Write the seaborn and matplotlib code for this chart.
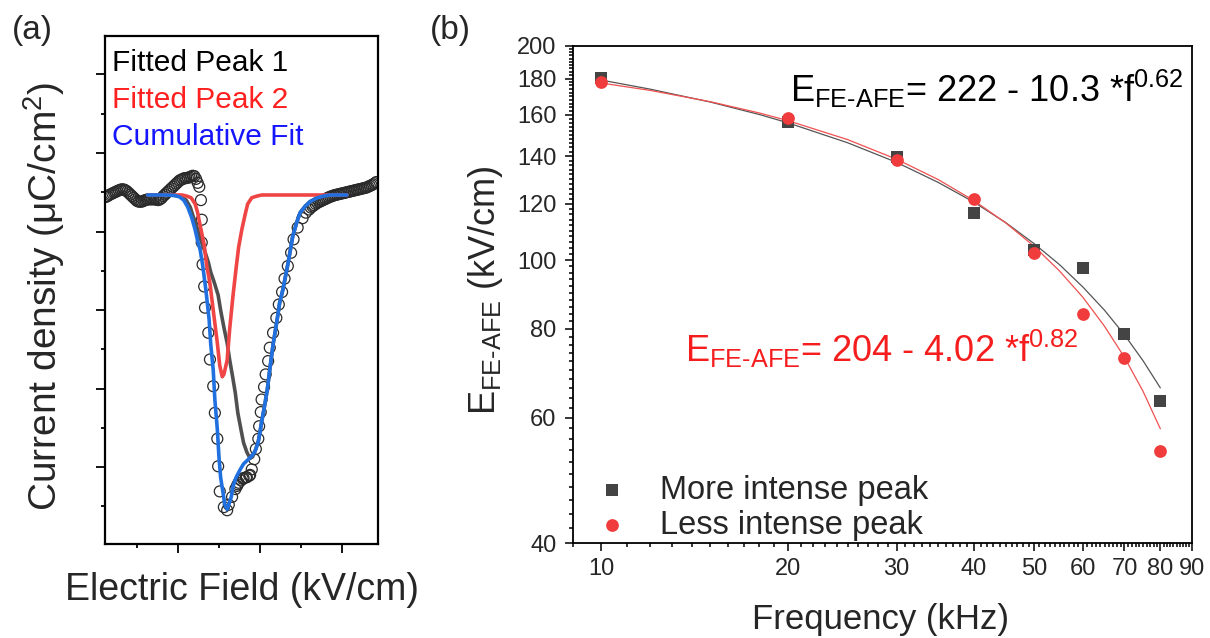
import matplotlib
matplotlib.use("Agg")
import matplotlib.pyplot as plt
import seaborn as sns
from matplotlib.ticker import FixedLocator, NullFormatter, FixedFormatter

# ---------------- panel (a) data (arbitrary units) ----------------
meas_field = [-188, -186, -184, -182, -180, -178, -176, -174, -172, -170, -168, -166, -164, -162,
              -160, -158, -156, -154, -152, -150, -148, -146, -144, -142, -140, -138, -136, -134,
              -132, -130, -128, -126, -124, -122, -120, -118, -116, -114, -112, -110, -108, -106,
              -104, -102, -100, -98, -96, -94, -92, -90, -88, -86, -84, -82, -80, -78, -76, -74,
              -72, -71, -71, -70, -68, -67, -63, -61, -57, -55, -52, -51, -49, -44, -40,
              -38, -34, -30, -28, -27, -26, -23, -21, -20, -17, -16, -13, -12, -10, -7, -5, -2, -1,
              1, 2, 5, 7, 10, 12, 16, 20, 23, 27, 30, 34, 38, 41, 46, 52, 56,
              60, 62, 64, 66, 68, 70, 72, 74, 76, 78, 80, 82, 84, 86, 88, 90, 92, 94, 96, 98, 100,
              102, 104, 106, 108, 110, 112, 114, 116, 118, 120, 122, 124, 126, 128, 130, 132, 134,
              136, 138, 140, 142]
meas_current = [-5.6, -5.5, -5.35, -5.25, -5.15, -5.05, -4.95, -4.85, -4.75, -4.67, -4.62, -4.65,
                -4.75, -4.9, -5.1, -5.3, -5.5, -5.7, -5.9, -6.1, -6.2, -6.2, -6.2, -6.1, -6.0, -5.95,
                -5.9, -5.9, -5.9, -5.9, -5.9, -5.95, -6.0, -5.9, -5.75, -5.5, -5.3, -5.1, -4.9, -4.7,
                -4.5, -4.3, -4.1, -3.9, -3.7, -3.5, -3.4, -3.3, -3.2, -3.2, -3.15, -3.1, -3.0, -2.9,
                -2.95, -3.3, -3.8, -4.3,
                -6.0, -8.5, -11.4, -14.2, -17.0, -19.7, -22.9, -26.3, -29.7, -33.1, -36.4, -39.9, -43.1, -45.1, -45.5,
                -44.8, -43.8, -42.8, -42.4, -42.2, -42.0, -41.7, -41.5, -41.4, -41.3, -41.3, -41.1, -41.0, -40.3, -39.0, -37.7, -36.4, -34.8,
                -33.0, -31.4, -29.8, -28.2, -26.5, -24.8, -22.9, -21.0, -19.3, -17.7, -16.0, -14.4, -12.7, -11.0, -9.5, -8.3, -7.6,
                -7.2, -6.95, -6.8, -6.65, -6.5, -6.35, -6.25, -6.15, -6.05, -5.95, -5.85, -5.75, -5.65,
                -5.55, -5.5, -5.4, -5.35, -5.3, -5.25, -5.2, -5.15,
                -5.1, -5.05, -5.0, -4.95, -4.9, -4.85, -4.8, -4.75, -4.7, -4.65, -4.6, -4.55, -4.5,
                -4.45, -4.4, -4.3, -4.2,
                -4.1, -4.0, -3.85, -3.7]

peak1_field = [-137, -110, -98, -90, -85, -82, -77, -72, -67, -63, -60, -56, -51, -48, -44, -40, -37,
               -33, -30, -27, -23, -20, -16, -12, -9, -5, -2, 0, 2, 6, 9, 12, 16, 21, 24, 28, 34, 40,
               45, 49, 55, 61, 70, 77, 85, 106]
peak1_current = [-5.35, -5.35, -5.5, -6.0, -6.9, -7.9, -9.4, -11.1, -12.6, -13.9, -15.2, -16.4, -18.1,
                 -20.0, -22.2, -24.2, -26.3, -28.7, -30.6, -33.1, -35.3, -36.9, -38.1, -38.9, -38.7,
                 -37.7, -36.7, -35.5, -34.3, -32.0, -30.1, -27.6, -24.4, -21.2, -19.1, -17.4, -14.2,
                 -10.6, -8.8, -7.6, -6.8, -6.2, -5.7, -5.5, -5.35, -5.35]

peak2_field = [-137, -95, -89, -84, -79, -76, -73, -68, -65, -61, -57, -52, -49, -46, -44, -40, -37,
               -33, -29, -26, -22, -18, -15, -10, -4, 2, 106]
peak2_current = [-5.35, -5.35, -5.5, -5.7, -6.5, -7.6, -9.2, -11.7, -14.3, -16.6, -20.0, -24.2, -27.1,
                 -28.5, -28.2, -26.4, -22.5, -18.3, -14.6, -12.0, -9.7, -7.8, -6.5, -5.7, -5.5, -5.35, -5.35]

cumfit_field = [-137, -116, -104, -98, -93, -88, -83, -79, -76, -73, -70, -66, -62, -60, -57, -55, -52,
                -50, -48, -45, -43, -40, -38, -35, -33, -29, -24, -20, -15, -10, -6, -2, 0, 2, 6, 9,
                12, 16, 21, 24, 28, 34, 40, 45, 49, 55, 61, 70, 77, 85, 106]
cumfit_current = [-5.35, -5.35, -5.4, -5.6, -6.0, -6.9, -8.3, -9.8, -11.2, -12.3, -14.2, -17.4, -21.2,
                  -24.4, -27.6, -31.4, -35.2, -38.7, -41.3, -43.3, -44.7, -45.4, -44.8, -43.8, -42.5,
                  -41.3, -40.3, -39.6, -39.1, -38.6, -38.0, -36.8, -35.6, -34.3, -32.0, -30.1, -27.6,
                  -24.4, -21.2, -19.1, -17.4, -14.2, -10.6, -8.8, -7.6, -6.8, -6.2, -5.7, -5.5, -5.35, -5.35]

legend_a_labels = ["Fitted Peak 1", "Fitted Peak 2", "Cumulative Fit"]

# ---------------- panel (b) data ----------------
freq = [10, 20, 30, 40, 50, 60, 70, 80]
e_more = [180.3, 156.5, 139.7, 116.5, 103.4, 97.3, 78.6, 63.3]
e_less = [177.8, 158.2, 138.1, 121.8, 102.4, 84.0, 72.9, 53.9]
fit_freq = [10, 12, 15, 18, 20, 25, 30, 35, 40, 45, 50, 55, 60, 65, 70, 75, 80]
fit_more = [179.1, 173.9, 166.8, 160.2, 156.0, 146.2, 137.2, 128.6, 120.6, 112.9, 105.5, 98.5,
            91.6, 85.0, 78.5, 72.2, 66.1]
fit_less = [177.4, 173.2, 167.0, 161.0, 157.1, 147.7, 138.6, 129.8, 121.2, 112.8, 104.6, 96.5,
            88.6, 80.7, 73.0, 65.4, 57.9]
y_ticks_b = [40, 60, 80, 100, 120, 140, 160, 180, 200]
x_ticks_b = [10, 20, 30, 40, 50, 60, 70, 80, 90]
series_labels_b = ["More intense peak", "Less intense peak"]

# ---------------- style ----------------
sns.set_style("ticks")
plt.rcParams["font.family"] = ["Liberation Sans", "DejaVu Sans"]
plt.rcParams["mathtext.fontset"] = "custom"
plt.rcParams["mathtext.rm"] = "Liberation Sans"
plt.rcParams["mathtext.it"] = "Liberation Sans:italic"
plt.rcParams["mathtext.bf"] = "Liberation Sans:bold"

W, H = 1210, 638
fig = plt.figure(figsize=(W / 100, H / 100), dpi=100)


def fx(px):
    return px / W


def fy(py):
    return 1 - py / H


def box(l, t, r, b):
    return [fx(l), fy(b), fx(r) - fx(l), fy(t) - fy(b)]


ax_a = fig.add_axes(box(105, 36, 378, 544))
ax_b = fig.add_axes(box(573, 46, 1192, 543))

# ---------------- panel (a) ----------------
sns.scatterplot(x=meas_field, y=meas_current, ax=ax_a, marker="o", s=62,
                facecolor="none", edgecolor="#2a2a2a", linewidth=0.9, zorder=2)
sns.lineplot(x=peak1_field, y=peak1_current, ax=ax_a, sort=False, estimator=None,
             color="#505050", linewidth=2.6, zorder=3)
sns.lineplot(x=peak2_field, y=peak2_current, ax=ax_a, sort=False, estimator=None,
             color="#f04545", linewidth=2.6, zorder=4)
sns.lineplot(x=cumfit_field, y=cumfit_current, ax=ax_a, sort=False, estimator=None,
             color="#2070e0", linewidth=2.6, zorder=5)

ax_a.set_xlim(-189, 144)
ax_a.set_ylim(-49.8, 14.9)
ax_a.xaxis.set_major_locator(FixedLocator([-100, 0, 100]))
ax_a.xaxis.set_minor_locator(FixedLocator([-150, -50, 50]))
ax_a.yaxis.set_major_locator(FixedLocator([10, 0, -10, -20, -30, -40]))
ax_a.yaxis.set_minor_locator(FixedLocator([5, -5, -15, -25, -35, -45]))
ax_a.tick_params(which="both", direction="out", labelleft=False, labelbottom=False,
                 left=True, bottom=True, right=False, top=False, width=1.3, color="black")
ax_a.tick_params(which="major", length=6.5)
ax_a.tick_params(which="minor", length=3.2)
for sp in ax_a.spines.values():
    sp.set_visible(True)
    sp.set_linewidth(1.6)
    sp.set_color("black")
ax_a.set_xlabel("")
ax_a.set_ylabel("")

legend_a_colors = ["black", "#ff2020", "#1515ff"]
for lab, col, base in zip(legend_a_labels, legend_a_colors, [71, 108, 145]):
    fig.text(fx(112), fy(base), lab, color=col, fontsize=21.5, ha="left", va="baseline")

fig.text(fx(242), fy(590), "Electric Field (kV/cm)", fontsize=27, ha="center", va="center")
fig.text(fx(44), fy(296), "Current density (μC/cm$^{2}$)", fontsize=28, rotation=90,
         ha="center", va="center")
fig.text(fx(32), fy(31), "(a)", fontsize=24, ha="center", va="center")
fig.text(fx(450), fy(31), "(b)", fontsize=24, ha="center", va="center")

# ---------------- panel (b) ----------------
ax_b.set_xscale("log")
ax_b.set_yscale("log")
sns.lineplot(x=fit_freq, y=fit_more, ax=ax_b, sort=False, estimator=None,
             color="#555555", linewidth=0.9, zorder=2)
sns.lineplot(x=fit_freq, y=fit_less, ax=ax_b, sort=False, estimator=None,
             color="#f05050", linewidth=0.9, zorder=2)
sns.scatterplot(x=freq, y=e_more, ax=ax_b, marker="s", s=66, color="#444444",
                linewidth=0, zorder=3, label=series_labels_b[0])
sns.scatterplot(x=freq, y=e_less, ax=ax_b, marker="o", s=84, color="#f03c3c",
                linewidth=0, zorder=4, label=series_labels_b[1])

ax_b.set_xlim(9, 90)
ax_b.set_ylim(40, 200)
ax_b.xaxis.set_major_locator(FixedLocator(x_ticks_b))
ax_b.xaxis.set_major_formatter(FixedFormatter([str(v) for v in x_ticks_b]))
ax_b.xaxis.set_minor_locator(FixedLocator([v for v in range(9, 91) if v % 10 != 0]))
ax_b.xaxis.set_minor_formatter(NullFormatter())
ax_b.yaxis.set_major_locator(FixedLocator(y_ticks_b))
ax_b.yaxis.set_major_formatter(FixedFormatter([str(v) for v in y_ticks_b]))
ax_b.yaxis.set_minor_locator(FixedLocator([v for v in range(40, 201, 2) if v % 20 != 0]))
ax_b.yaxis.set_minor_formatter(NullFormatter())
ax_b.tick_params(which="both", direction="out", left=True, bottom=True, right=False, top=False,
                 width=1.1, color="black", labelsize=17)
ax_b.tick_params(which="major", length=6)
ax_b.tick_params(which="minor", length=3)
ax_b.tick_params(axis="x", which="major", pad=5)
ax_b.tick_params(axis="y", which="major", pad=6)
for sp in ax_b.spines.values():
    sp.set_visible(True)
    sp.set_linewidth(1.3)
    sp.set_color("black")
ax_b.set_xlabel("")
ax_b.set_ylabel("")

leg = ax_b.legend(loc="lower left", bbox_to_anchor=((596 - 573) / 619, 0.005), frameon=False,
                  fontsize=23.5, borderpad=0, borderaxespad=0, handlelength=1.0,
                  handletextpad=0.95, labelspacing=0.12)

fig.text(fx(880), fy(619), "Frequency (kHz)", fontsize=25, ha="center", va="center")
fig.text(fx(486), fy(290), r"E$_{\mathregular{FE\text{-}AFE}}$ (kV/cm)", fontsize=26,
         rotation=90, ha="center", va="center")
fig.text(fx(790), fy(102), r"E$_{\mathregular{FE\text{-}AFE}}$= 222 - 10.3 *f$^{\mathregular{0.62}}$",
         fontsize=26, color="black", ha="left", va="baseline")
fig.text(fx(685), fy(362), r"E$_{\mathregular{FE\text{-}AFE}}$= 204 - 4.02 *f$^{\mathregular{0.82}}$",
         fontsize=26, color="#f51d1d", ha="left", va="baseline")

fig.savefig("out.png", dpi=100)
